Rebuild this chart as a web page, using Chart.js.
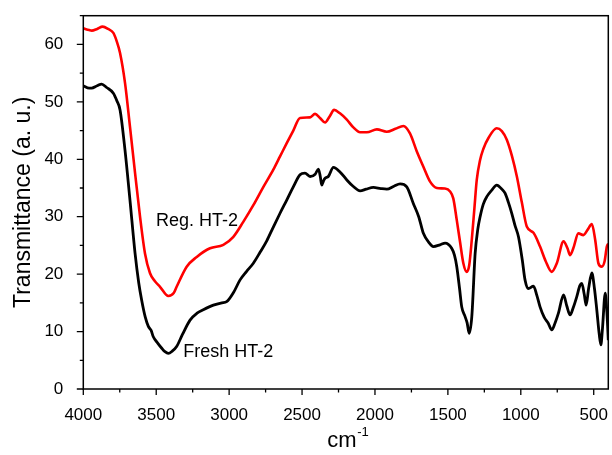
<!DOCTYPE html>
<html>
<head>
<meta charset="utf-8">
<script src="https://cdn.jsdelivr.net/npm/chart.js@4.4.0/dist/chart.umd.min.js"></script>
<style>
  html, body { margin: 0; padding: 0; background: #fff; }
  #wrap { width: 612px; height: 455px; }
</style>
</head>
<body>
<div id="wrap"><canvas id="c" width="612" height="455"></canvas></div>
<script>
// ---- Data ----
const regWavenumber = [4000,3960,3942,3905,3867,3830,3794,3770,3748,3714,3680,3645,3611,3577,3543,3510,3474,3417,3380,3360,3291,3222,3131,3040,2971,2903,2834,2765,2697,2651,2605,2560,2514,2445,2411,2377,2342,2310,2280,2240,2193,2150,2102,2056,1987,1919,1860,1805,1760,1715,1668,1622,1576,1520,1485,1463,1439,1416,1394,1371,1354,1336,1318,1302,1280,1257,1220,1165,1130,1096,1060,1027,993,959,913,868,830,788,753,707,680,662,640,605,571,540,513,490,468,445,425,410,400];
const regTransmittance = [62.8,62.5,62.4,62.7,63.1,62.7,62.0,60.5,58.5,53.3,45.7,37.6,30.0,23.6,20.2,18.8,17.8,16.2,16.7,17.8,21.3,23.0,24.5,25.1,26.5,29.1,32.0,35.2,38.2,40.5,42.8,45.0,47.2,47.3,47.9,47.2,46.4,47.5,48.6,48.0,46.9,45.6,44.7,44.7,45.2,44.8,45.3,45.8,44.5,41.5,38.7,36.1,35.0,34.9,34.4,33.2,29.4,25.5,21.9,20.4,21.5,26.0,31.5,36.4,39.8,41.8,43.8,45.4,44.9,43.4,40.5,37.0,32.5,28.3,27.2,24.8,22.3,20.4,21.9,25.7,24.5,23.3,24.5,27.1,26.8,27.8,28.7,26.0,21.9,21.3,22.3,24.8,25.3];

const freshWavenumber = [4000,3960,3943,3905,3874,3840,3794,3770,3748,3714,3680,3645,3620,3600,3575,3554,3535,3520,3490,3462,3440,3417,3390,3360,3320,3268,3220,3177,3108,3050,3017,2970,2925,2880,2834,2788,2742,2697,2651,2605,2560,2514,2480,2445,2410,2388,2375,2365,2352,2342,2320,2285,2240,2193,2150,2102,2060,2011,1960,1919,1870,1828,1782,1737,1700,1668,1630,1600,1554,1519,1474,1455,1439,1420,1405,1382,1368,1354,1336,1313,1295,1279,1257,1233,1200,1165,1130,1108,1085,1062,1040,1016,990,971,948,913,890,868,840,811,788,765,742,707,685,662,640,616,595,582,565,552,535,513,495,479,462,451,440,421,410,400];
const freshTransmittance = [52.8,52.4,52.4,52.8,53.1,52.5,51.5,50.2,48.6,41.6,32.9,23.6,18.5,15.5,12.5,10.9,10.2,9.1,8.0,7.1,6.5,6.2,6.6,7.4,9.5,12.0,13.2,13.8,14.6,15.0,15.2,16.8,19.0,20.5,21.9,23.8,25.8,28.2,30.6,32.9,35.2,37.3,37.6,37.0,37.4,38.3,37.0,35.5,36.3,36.7,37.0,38.6,37.8,36.4,35.3,34.5,34.8,35.1,34.9,34.8,35.3,35.7,35.2,32.3,30.0,27.1,25.5,24.8,25.1,25.4,24.5,23.3,21.3,17.5,14.3,12.6,11.5,9.7,12.6,23.6,27.8,30.0,32.2,33.5,34.6,35.5,34.8,34.1,32.5,30.6,28.5,26.5,22.5,19.0,17.5,17.9,16.3,14.3,12.5,11.4,10.3,11.5,13.2,16.4,14.5,12.9,14.2,16.1,18.0,18.4,16.5,14.6,17.5,20.2,17.5,13.8,9.5,7.7,10.5,16.7,13.5,8.5];

const seriesNames = ["Reg. HT-2", "Fresh HT-2"];
const xTickValues = [4000,3750,3500,3250,3000,2750,2500,2250,2000,1750,1500,1250,1000,750,500];
const xTickLabels = ["4000","","3500","","3000","","2500","","2000","","1500","","1000","","500"];
const yTickValues = [0,5,10,15,20,25,30,35,40,45,50,55,60,65];
const yTickLabels = ["0","","10","","20","","30","","40","","50","","60",""];
// label anchors (data coordinates: wavenumber, transmittance)
const labelAnchorX = [3501, 3314];
const labelAnchorY = [28.4, 5.5];

const FONT = "'Liberation Sans', Arial, Helvetica, sans-serif";

function toPoints(xs, ys) { return xs.map((x, i) => ({ x: x, y: ys[i] })); }

const extras = {
  id: 'extras',
  afterDraw(chart) {
    const ctx = chart.ctx;
    const a = chart.chartArea;
    const xs = chart.scales.x, ys = chart.scales.y;
    ctx.save();
    // frame
    ctx.strokeStyle = '#000';
    ctx.lineWidth = 1.5;
    ctx.strokeRect(a.left, a.top, a.right - a.left, a.bottom - a.top);
    // ticks
    ctx.lineWidth = 1.3;
    ctx.beginPath();
    xTickValues.forEach((v, i) => {
      const px = xs.getPixelForValue(v);
      const len = xTickLabels[i] ? 6 : 3.5;
      ctx.moveTo(px, a.bottom);
      ctx.lineTo(px, a.bottom + len);
    });
    yTickValues.forEach((v, i) => {
      const py = ys.getPixelForValue(v);
      const len = yTickLabels[i] ? 6.5 : 3.5;
      ctx.moveTo(a.left, py);
      ctx.lineTo(a.left - len, py);
    });
    ctx.stroke();
    // series labels
    ctx.fillStyle = '#000';
    ctx.font = '18px ' + FONT;
    ctx.textAlign = 'left';
    ctx.textBaseline = 'alphabetic';
    seriesNames.forEach((n, i) => {
      ctx.fillText(n, xs.getPixelForValue(labelAnchorX[i]), ys.getPixelForValue(labelAnchorY[i]));
    });
    // x title: cm^-1
    const cx = (a.left + a.right) / 2;
    ctx.font = '22px ' + FONT;
    const w1 = ctx.measureText('cm').width;
    ctx.font = '13px ' + FONT;
    const w2 = ctx.measureText('-1').width;
    const start = cx - (w1 + w2) / 2 + 2;
    ctx.font = '22px ' + FONT;
    ctx.fillText('cm', start, 447);
    ctx.font = '13px ' + FONT;
    ctx.fillText('-1', start + w1 + 0.5, 436);
    ctx.restore();
  }
};

new Chart(document.getElementById('c'), {
  type: 'line',
  data: {
    datasets: [
      {
        label: seriesNames[0],
        data: toPoints(regWavenumber, regTransmittance),
        borderColor: '#ff0000',
        borderWidth: 2.6,
        pointRadius: 0,
        cubicInterpolationMode: 'monotone',
        fill: false
      },
      {
        label: seriesNames[1],
        data: toPoints(freshWavenumber, freshTransmittance),
        borderColor: '#000000',
        borderWidth: 2.8,
        pointRadius: 0,
        cubicInterpolationMode: 'monotone',
        fill: false
      }
    ]
  },
  options: {
    responsive: false,
    animation: false,
    devicePixelRatio: 1,
    layout: { padding: { top: 15.7, right: 3.7, left: 0, bottom: 0 } },
    plugins: { legend: { display: false }, tooltip: { enabled: false } },
    scales: {
      x: {
        type: 'linear',
        reverse: true,
        min: 400,
        max: 4000,
        border: { display: false },
        grid: { display: false },
        afterBuildTicks: (s) => { s.ticks = xTickValues.map(v => ({ value: v })); },
        afterFit: (s) => { s.height = 66; s.paddingLeft = 0; s.paddingRight = 0; },
        ticks: {
          autoSkip: false,
          maxRotation: 0,
          padding: 8,
          color: '#000',
          font: { family: FONT, size: 17 },
          callback: (v) => { const i = xTickValues.indexOf(v); return i >= 0 ? xTickLabels[i] : ''; }
        }
      },
      y: {
        type: 'linear',
        min: 0,
        max: 65,
        border: { display: false },
        grid: { display: false },
        afterBuildTicks: (s) => { s.ticks = yTickValues.map(v => ({ value: v })); },
        afterFit: (s) => { s.width = 83.3; s.paddingTop = 0; s.paddingBottom = 0; },
        title: {
          display: true,
          text: 'Transmittance (a. u.)',
          color: '#000',
          font: { family: FONT, size: 23 },
          padding: { top: 10, bottom: 0 }
        },
        ticks: {
          autoSkip: false,
          padding: 12,
          color: '#000',
          font: { family: FONT, size: 17 },
          callback: (v) => { const i = yTickValues.indexOf(v); return i >= 0 ? yTickLabels[i] : ''; }
        }
      }
    }
  },
  plugins: [extras]
});
</script>
</body>
</html>
